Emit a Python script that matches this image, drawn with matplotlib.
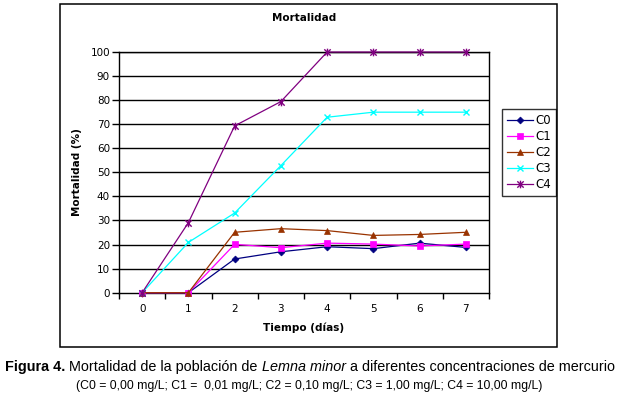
import matplotlib
matplotlib.use("Agg")
import matplotlib.pyplot as plt
from matplotlib.patches import Rectangle
from matplotlib.path import Path

DAYS = [0, 1, 2, 3, 4, 5, 6, 7]
SERIES_NAMES = ["C0", "C1", "C2", "C3", "C4"]
C0 = [0, 0, 14.0, 17.0, 19.1, 18.3, 20.6, 18.8]
C1 = [0, 0, 20.1, 18.7, 20.6, 20.2, 19.4, 20.2]
C2 = [0, 0, 25.1, 26.6, 25.8, 23.8, 24.2, 25.1]
C3 = [0, 20.9, 33.1, 52.8, 72.9, 75.0, 75.0, 75.0]
C4 = [0, 29.1, 69.3, 79.4, 100, 100, 100, 100]
Y_TICKS = list(range(0, 101, 10))

# Excel-style star: an x with a vertical bar through it
STAR = Path(
    [(-1, -1), (1, 1), (-1, 1), (1, -1), (0, -1.2), (0, 1.2)],
    [Path.MOVETO, Path.LINETO, Path.MOVETO, Path.LINETO, Path.MOVETO, Path.LINETO],
)

COLORS = ["#000080", "#ff00ff", "#993300", "#00ffff", "#800080"]
MARKERS = ["D", "s", "^", "x", STAR]
SIZES = [3.5, 4.5, 5, 5, 5.5]

W, H = 618, 397
FONT = "DejaVu Sans"
SMALL = 7.5
CAP_FONT = ["Liberation Sans", "DejaVu Sans"]


def fx(px):
    return px / W


def fy(py):
    return 1 - py / H


fig = plt.figure(figsize=(W / 100, H / 100), dpi=100)

# outer chart frame
fig.patches.append(
    Rectangle((fx(60), fy(347)), fx(557) - fx(60), fy(4) - fy(347),
              transform=fig.transFigure, fill=False, edgecolor="black", lw=1.1)
)

ax = fig.add_axes([fx(119), fy(292.7), fx(489) - fx(119), fy(52) - fy(292.7)])

for name, vals, color, marker, ms in zip(SERIES_NAMES, [C0, C1, C2, C3, C4], COLORS, MARKERS, SIZES):
    thin = isinstance(marker, Path) or marker == "x"
    ax.plot(DAYS, vals, color=color, lw=0.9, marker=marker, markersize=ms,
            markeredgewidth=1.0 if thin else 0.5,
            label=name, clip_on=False, zorder=3)

ax.set_xlim(-0.5, 7.5)
ax.set_ylim(0, 100)
ax.set_yticks(Y_TICKS)
ax.set_yticklabels([str(v) for v in Y_TICKS], fontsize=SMALL, family=FONT)
ax.set_xticks(DAYS)
ax.set_xticklabels([str(d) for d in DAYS], fontsize=SMALL, family=FONT)
ax.tick_params(axis="x", which="major", length=0, pad=8)
ax.set_xticks([d - 0.5 for d in DAYS] + [7.5], minor=True)
ax.tick_params(axis="x", which="minor", length=4, width=1, direction="out")
ax.tick_params(axis="y", length=5, width=1, direction="out", pad=1.5)

for v in Y_TICKS[1:]:
    ax.axhline(v, color="black", lw=1, zorder=1)
for s in ax.spines.values():
    s.set_linewidth(1)
    s.set_color("black")

ax.set_ylabel("Mortalidad (%)", fontsize=SMALL, fontweight="bold", family=FONT, labelpad=6)
ax.set_xlabel("Tiempo (días)", fontsize=SMALL, fontweight="bold", family=FONT, labelpad=6)

fig.text(fx(304), fy(18), "Mortalidad", ha="center", va="center",
         fontsize=SMALL, fontweight="bold", family=FONT)

leg = ax.legend(loc="upper left", bbox_to_anchor=(fx(502), fy(109)),
                bbox_transform=fig.transFigure,
                frameon=True, fancybox=False, edgecolor="black",
                handlelength=2.2, handletextpad=0.25, borderpad=0.4,
                labelspacing=0.26, borderaxespad=0, prop={"family": FONT, "size": 8.5})
leg.get_frame().set_linewidth(1)

# caption, drawn piece by piece so the species name can be italic
fig.canvas.draw()
renderer = fig.canvas.get_renderer()
pieces = [
    ("Figura 4.", "bold", "normal"),
    (" Mortalidad de la población de ", "normal", "normal"),
    ("Lemna minor", "normal", "italic"),
    (" a diferentes concentraciones de mercurio", "normal", "normal"),
]
x = fx(5)
for txt, weight, style in pieces:
    t = fig.text(x, fy(367), txt, ha="left", va="center", fontsize=10.4,
                 fontweight=weight, fontstyle=style, family=CAP_FONT)
    bb = t.get_window_extent(renderer)
    x = bb.x1 / W

fig.text(fx(309), fy(386),
         "(C0 = 0,00 mg/L; C1 =  0,01 mg/L; C2 = 0,10 mg/L; C3 = 1,00 mg/L; C4 = 10,00 mg/L)",
         ha="center", va="center", fontsize=8.8, family=CAP_FONT)

fig.savefig("out.png", dpi=100)
